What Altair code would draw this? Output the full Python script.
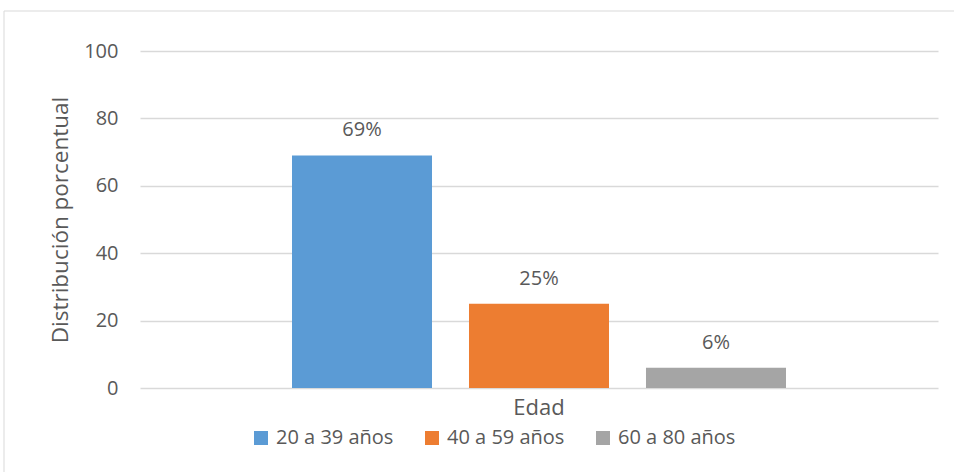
import altair as alt
import pandas as pd

categories = ["20 a 39 años", "40 a 59 años", "60 a 80 años"]
values = [69, 25, 6]
labels = ["69%", "25%", "6%"]
group = ["Edad", "Edad", "Edad"]
colors = ["#5b9bd5", "#ed7d31", "#a5a5a5"]

df = pd.DataFrame({"grupo": group, "edad": categories, "valor": values, "etiqueta": labels})

FONT = "Open Sans"
TXT = "#595959"

x = alt.X("grupo:N", title=None,
          scale=alt.Scale(paddingOuter=0.3077, paddingInner=0),
          axis=alt.Axis(labelAngle=0, ticks=False, domain=False, labelFontSize=22,
                        labelPadding=9, labelColor=TXT, labelFont=FONT))
xo = alt.XOffset("edad:N", sort=categories, scale=alt.Scale(paddingInner=0.209, paddingOuter=0))
y = alt.Y("valor:Q", title="Distribución porcentual",
          scale=alt.Scale(domain=[0, 100], nice=False),
          axis=alt.Axis(values=[0, 20, 40, 60, 80, 100], ticks=False, domain=False,
                        labelFontSize=20, labelPadding=22, labelColor=TXT, labelFont=FONT,
                        titleFontSize=22.5, titleFont=FONT, titleColor=TXT, titleFontWeight="normal",
                        titleX=-80, titleY=168.5, titleAngle=-90, titleBaseline="middle",
                        gridColor="#d9d9d9", gridWidth=1.3))

bars = alt.Chart(df).mark_bar().encode(
    x=x, xOffset=xo, y=y,
    color=alt.Color("edad:N", sort=categories,
                    scale=alt.Scale(domain=categories, range=colors),
                    legend=alt.Legend(title=None, orient="none", direction="horizontal",
                                      legendX=111, legendY=377, symbolType="square",
                                      symbolSize=196, symbolStrokeWidth=0, labelFontSize=20,
                                      labelFont=FONT, labelColor=TXT, labelOffset=5,
                                      columnPadding=28)),
)

text = alt.Chart(df).mark_text(fontSize=20, font=FONT, color=TXT, dy=-25, baseline="middle").encode(
    x=x, xOffset=xo, y="valor:Q", text="etiqueta:N"
)

border_left = alt.Chart(pd.DataFrame({"a": [0]})).mark_rule(color="#d9d9d9", strokeWidth=1).encode(
    x=alt.value(-136), y=alt.value(-40), y2=alt.value(421)
)
border_top = alt.Chart(pd.DataFrame({"a": [0]})).mark_rule(color="#d9d9d9", strokeWidth=1).encode(
    x=alt.value(-136), x2=alt.value(814), y=alt.value(-40)
)

chart = alt.layer(bars, text, border_left, border_top).properties(
    width=798, height=337,
    autosize=alt.AutoSizeParams(type="none"),
    padding={"left": 140, "top": 51, "right": 16, "bottom": 84},
    background="white",
).configure_view(stroke=None)

chart.save("out.html", embed_options={"renderer": "svg", "actions": False})
